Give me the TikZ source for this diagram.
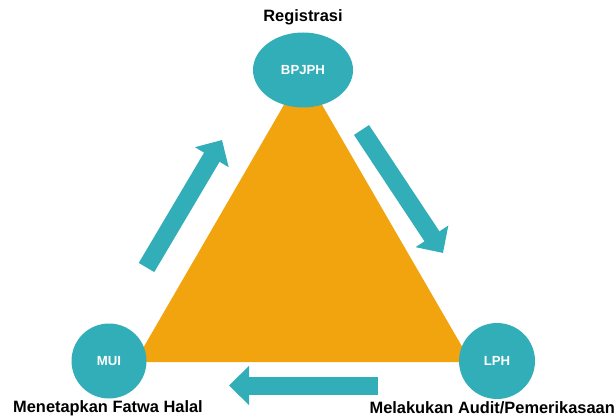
\documentclass[tikz,border=0pt]{standalone}
\usepackage{fontspec}
\setmainfont{Liberation Sans}
\usetikzlibrary{arrows.meta,shapes.geometric}
\definecolor{halalteal}{RGB}{50,174,184}
\definecolor{halalorange}{RGB}{241,164,13}
\begin{document}
\begin{tikzpicture}[x=1pt,y=-1pt,
	lembaga/.style={fill=halalteal,text=white,font=\fontsize{13.2}{15}\selectfont\bfseries,inner sep=0pt},
	tugas/.style={font=\fontsize{16.4}{19}\selectfont\bfseries,inner sep=0pt},
	alur/.style={draw=halalteal,line width=18pt,-{Triangle[length=20pt,width=38pt]}}]
	\useasboundingbox (0,0) rectangle (615,419);
	\coordinate (puncak) at (303,72);
	\coordinate (kiri) at (135,362);
	\coordinate (kanan) at (471,362);
	\fill[halalorange] (puncak) -- (kiri) -- (kanan) -- cycle;
	\node[lembaga,ellipse,minimum width=100pt,minimum height=75pt] (bpjph) at (303,70) {BPJPH};
	\node[lembaga,circle,minimum size=75pt] (mui) at (109,361) {MUI};
	\node[lembaga,circle,minimum size=76pt] (lph) at (497,361) {LPH};
	\node[tugas] at ([yshift=14.5pt]bpjph.north) (registrasi) {Registrasi};
	\node[tugas,anchor=west] at ([xshift=-96pt,yshift=-9.5pt]mui.south) (fatwa) {Menetapkan Fatwa Halal};
	\node[tugas,anchor=east] at ([xshift=118pt,yshift=-9pt]lph.south) (audit) {Melakukan Audit/Pemerikasaan};
	\coordinate (naikA) at (146.5,267.5);
	\coordinate (naikB) at (222,140);
	\coordinate (turunA) at (361.5,130);
	\coordinate (turunB) at (443,253);
	\coordinate (balikA) at (378,385.5);
	\coordinate (balikB) at (229,385.5);
	\draw[alur] (naikA) -- (naikB);
	\draw[alur] (turunA) -- (turunB);
	\draw[alur] (balikA) -- (balikB);
\end{tikzpicture}
\end{document}
